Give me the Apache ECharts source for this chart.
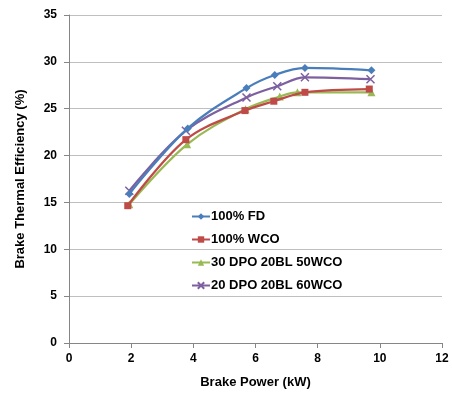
<!DOCTYPE html>
<html>
<head>
<meta charset="utf-8">
<script src="https://cdn.jsdelivr.net/npm/echarts@6/dist/echarts.min.js"></script>
<style>
  html, body { margin: 0; padding: 0; background: #fff; }
  #main { width: 452px; height: 405px; }
</style>
</head>
<body>
<div id="main"></div>
<script>
const seriesNames = ["100% FD", "100% WCO", "30 DPO 20BL 50WCO", "20 DPO 20BL 60WCO"];

const fdPower = [1.94, 3.82, 5.71, 6.62, 7.59, 9.73];
const fdBte = [15.9, 22.9, 27.2, 28.6, 29.35, 29.1];

const wcoPower = [1.89, 3.76, 5.66, 6.59, 7.59, 9.66];
const wcoBte = [14.65, 21.7, 24.8, 25.8, 26.75, 27.1];

const dpo30Power = [1.94, 3.8, 5.68, 6.78, 7.35, 9.73];
const dpo30Bte = [14.8, 21.2, 24.95, 26.3, 26.75, 26.75];

const dpo20Power = [1.94, 3.76, 5.71, 6.7, 7.59, 9.7];
const dpo20Bte = [16.25, 22.65, 26.2, 27.4, 28.35, 28.15];

const colors = ["#4a7ebb", "#be4b48", "#98b954", "#7d60a0"];
const symbols = ["diamond", "rect", "triangle", "path://M0,0L10,10M10,0L0,10"];
const symbolSizes = [8, 7, 8, 8];

function pairs(xs, ys) {
  return xs.map((x, i) => [x, ys[i]]);
}

const allData = [
  pairs(fdPower, fdBte),
  pairs(wcoPower, wcoBte),
  pairs(dpo30Power, dpo30Bte),
  pairs(dpo20Power, dpo20Bte)
];

const chart = echarts.init(document.getElementById("main"));

const font = "'Liberation Sans', Arial, sans-serif";

chart.setOption({
  animation: false,
  textStyle: { fontFamily: font },
  grid: { left: 69, right: 10, top: 15, bottom: 62 },
  legend: {
    orient: "vertical",
    left: 191,
    top: 210,
    padding: 0,
    itemGap: 10,
    itemWidth: 18,
    itemHeight: 8,
    textStyle: { fontSize: 13, fontWeight: "bold", color: "#000", fontFamily: font, padding: [0, 0, 0, -4] },
    data: seriesNames
  },
  xAxis: {
    type: "value",
    min: 0,
    max: 12,
    interval: 2,
    name: "Brake Power (kW)",
    nameLocation: "middle",
    nameGap: 33,
    nameTextStyle: { fontSize: 13, fontWeight: "bold", color: "#000" },
    axisLine: { lineStyle: { color: "#868686" } },
    axisTick: { show: true, length: 5, lineStyle: { color: "#868686" } },
    axisLabel: { fontSize: 12, fontWeight: "bold", color: "#000", margin: 10 },
    splitLine: { show: false }
  },
  yAxis: {
    type: "value",
    min: 0,
    max: 35,
    interval: 5,
    name: "Brake Thermal Efficiency (%)",
    nameLocation: "middle",
    nameGap: 42,
    nameTextStyle: { fontSize: 13, fontWeight: "bold", color: "#000" },
    axisLine: { show: true, lineStyle: { color: "#868686" } },
    axisTick: { show: true, length: 5, lineStyle: { color: "#868686" } },
    axisLabel: { fontSize: 12, fontWeight: "bold", color: "#000", margin: 12 },
    splitLine: { lineStyle: { color: "#bfbfbf" } }
  },
  series: seriesNames.map((name, i) => ({
    name: name,
    type: "line",
    smooth: 0.35,
    data: allData[i],
    symbol: symbols[i],
    symbolSize: symbolSizes[i],
    showAllSymbol: true,
    lineStyle: { color: colors[i], width: 2.25 },
    itemStyle: {
      color: colors[i],
      borderColor: colors[i],
      borderWidth: i === 3 ? 1.5 : 0
    },
    z: 10 - i
  }))
});
</script>
</body>
</html>
